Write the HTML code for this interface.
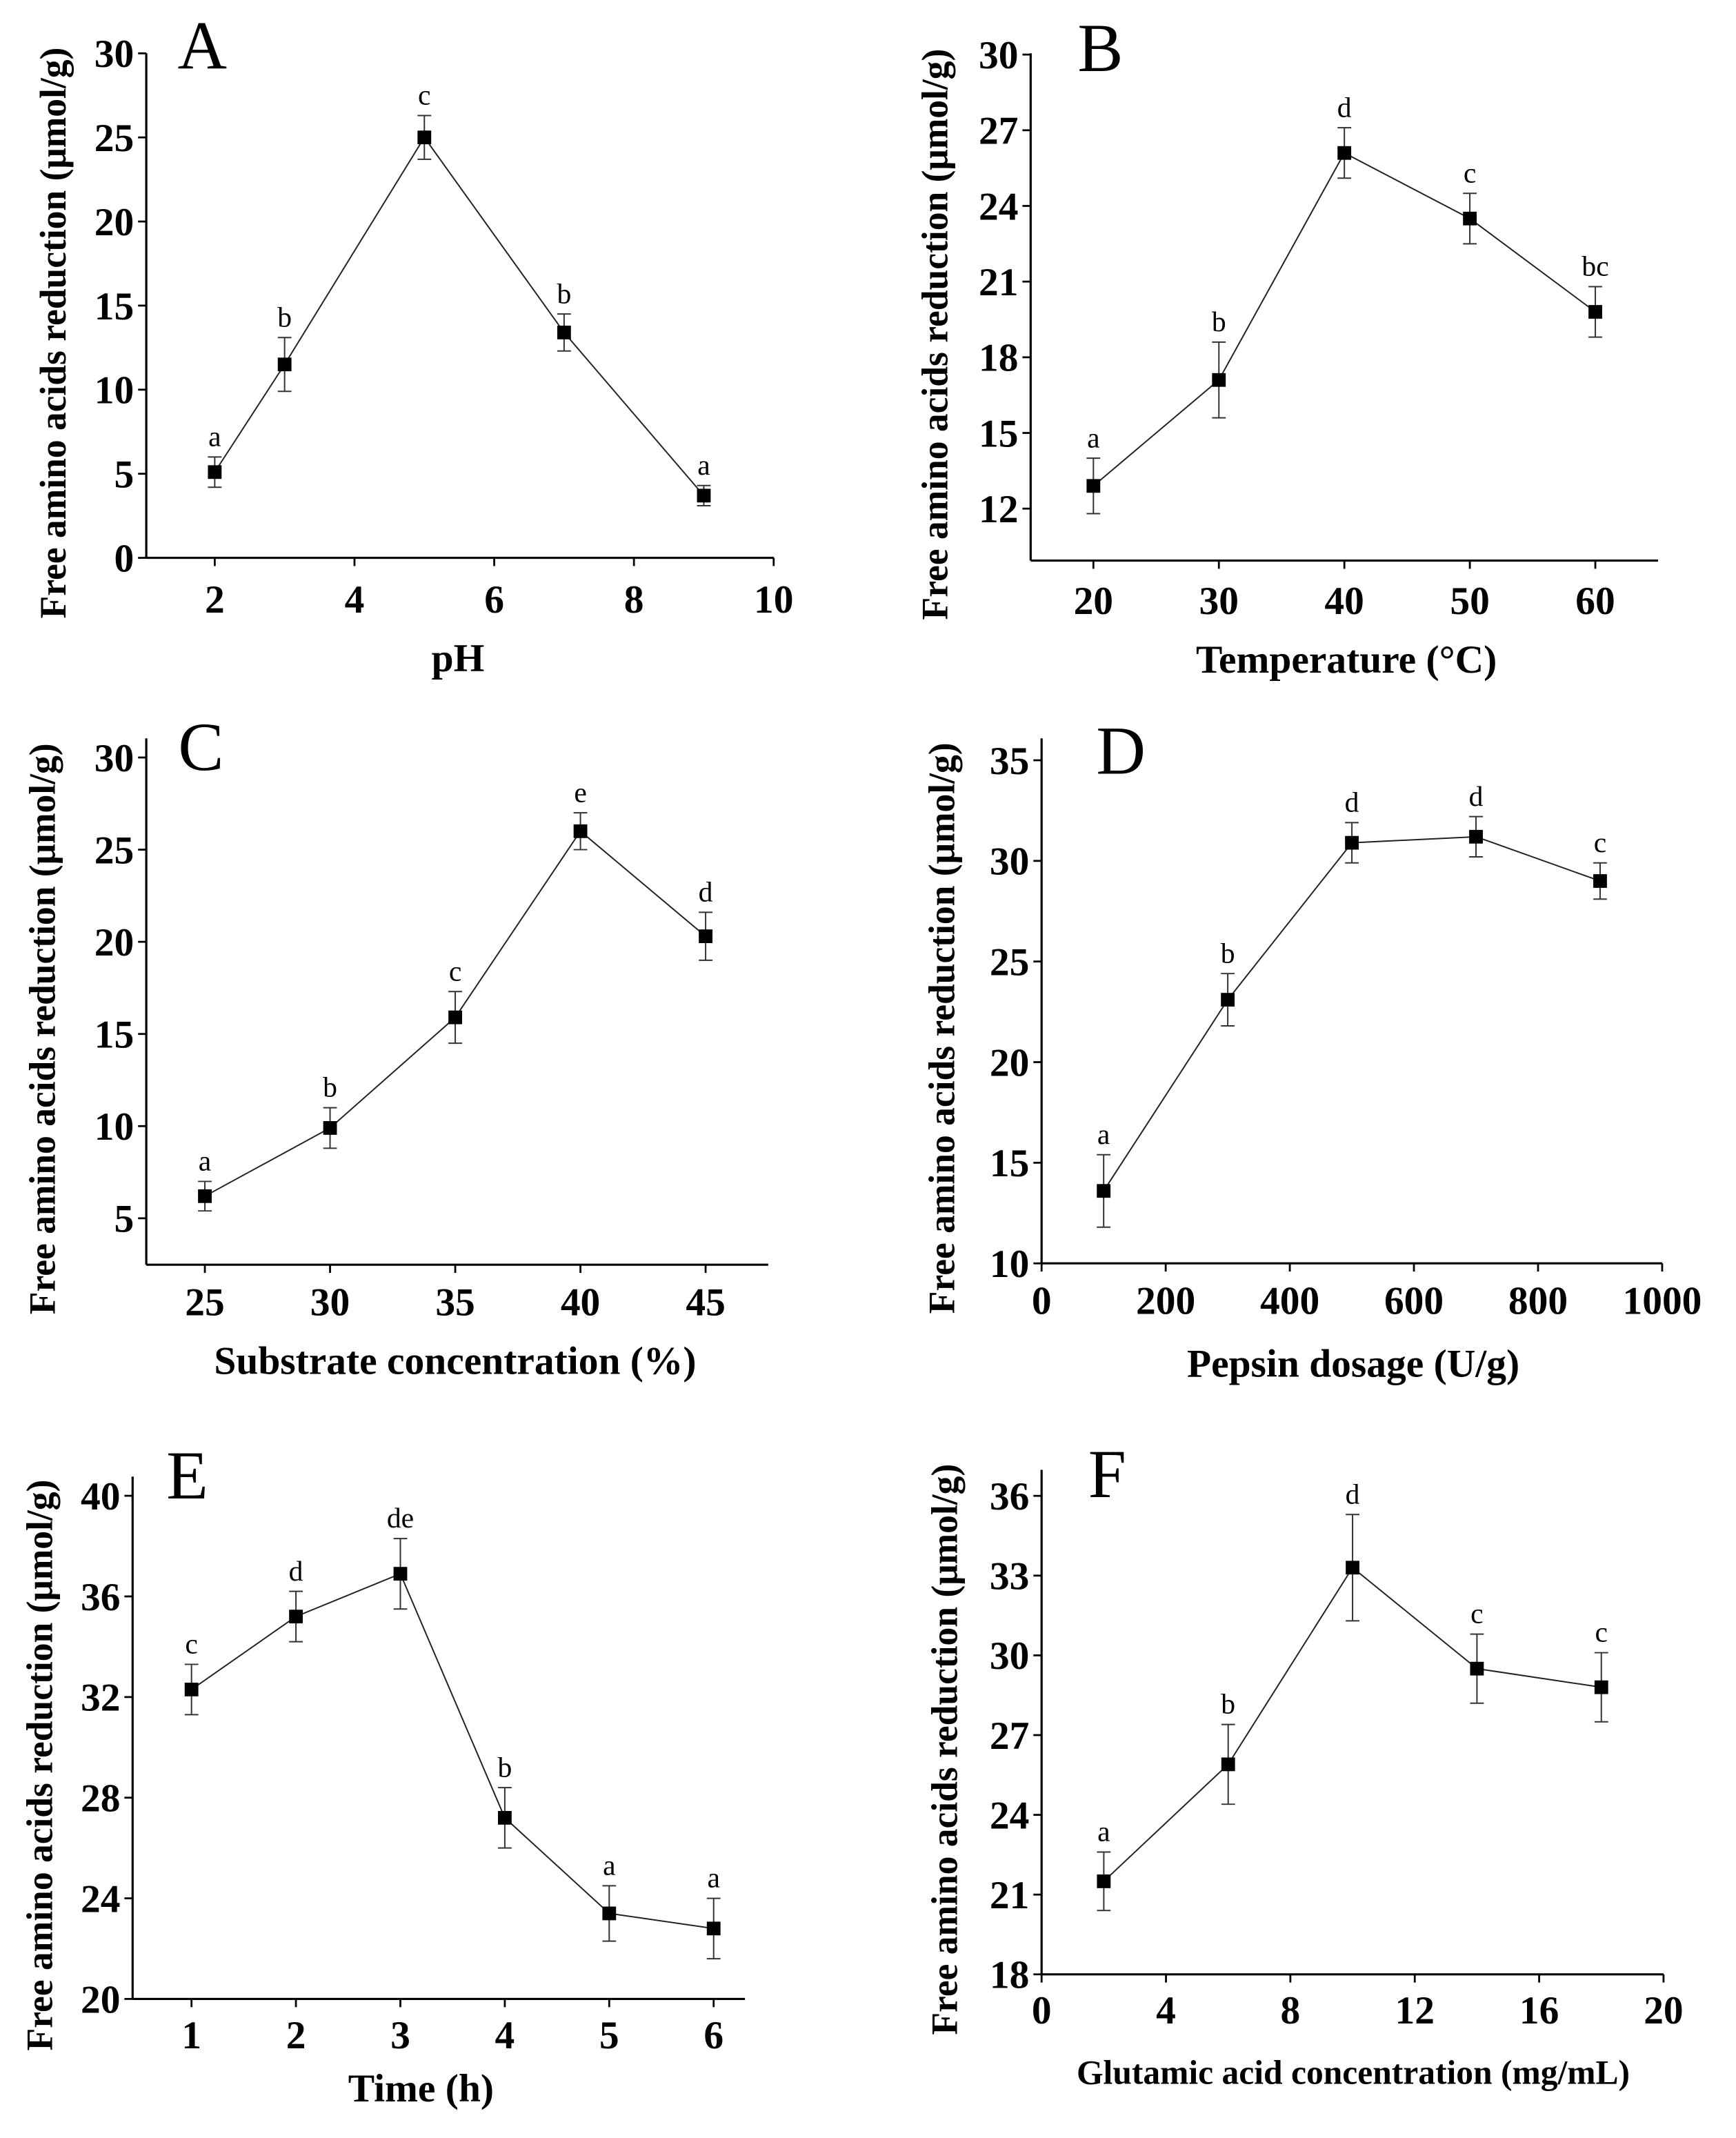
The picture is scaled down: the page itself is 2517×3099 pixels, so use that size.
<!DOCTYPE html>
<html><head><meta charset="utf-8">
<style>
html,body{margin:0;padding:0;background:#fff;}
svg{display:block;font-family:"Liberation Serif",serif;}
</style></head>
<body>
<svg id="fig" width="2517" height="3099" viewBox="0 0 1270 1563.7" xmlns="http://www.w3.org/2000/svg"></svg>
<script>
// Panel data arrays
const aX=[2,3,5,7,9];
const aY=[5.1,11.5,25.0,13.4,3.7];
const aErr=[0.9,1.6,1.3,1.1,0.6];
const aLbl=["a","b","c","b","a"];
const aXTicks=[2,4,6,8,10];
const aYTicks=[0,5,10,15,20,25,30];

const bX=[20,30,40,50,60];
const bY=[12.9,17.1,26.1,23.5,19.8];
const bErr=[1.1,1.5,1.0,1.0,1.0];
const bLbl=["a","b","d","c","bc"];
const bXTicks=[20,30,40,50,60];
const bYTicks=[12,15,18,21,24,27,30];

const cX=[25,30,35,40,45];
const cY=[6.2,9.9,15.9,26.0,20.3];
const cErr=[0.8,1.1,1.4,1.0,1.3];
const cLbl=["a","b","c","e","d"];
const cXTicks=[25,30,35,40,45];
const cYTicks=[5,10,15,20,25,30];

const dX=[100,300,500,700,900];
const dY=[13.6,23.1,30.9,31.2,29.0];
const dErr=[1.8,1.3,1.0,1.0,0.9];
const dLbl=["a","b","d","d","c"];
const dXTicks=[0,200,400,600,800,1000];
const dYTicks=[10,15,20,25,30,35];

const eX=[1,2,3,4,5,6];
const eY=[32.3,35.2,36.9,27.2,23.4,22.8];
const eErr=[1.0,1.0,1.4,1.2,1.1,1.2];
const eLbl=["c","d","de","b","a","a"];
const eXTicks=[1,2,3,4,5,6];
const eYTicks=[20,24,28,32,36,40];

const fX=[2,6,10,14,18];
const fY=[21.5,25.9,33.3,29.5,28.8];
const fErr=[1.1,1.5,2.0,1.3,1.3];
const fLbl=["a","b","d","c","c"];
const fXTicks=[0,4,8,12,16,20];
const fYTicks=[18,21,24,27,30,33,36];

const NS="http://www.w3.org/2000/svg";
const svg=document.getElementById('fig');
function mk(tag,attrs,parent){const e=document.createElementNS(NS,tag);for(const k in attrs)e.setAttribute(k,attrs[k]);(parent||svg).appendChild(e);return e;}

const panels=[
 {id:'a',letter:'A',X:aX,Y:aY,E:aErr,L:aLbl,xt:aXTicks,yt:aYTicks,x0:107,x1:566,xmin:1.02,xmax:10,y0:408,y1:39,ymin:0,ymax:30,lx:148,ly:50,xtitle:'pH',xtx:335,xty:491,xtfs:29,ytx:38,tly:448},
 {id:'b',letter:'B',X:bX,Y:bY,E:bErr,L:bLbl,xt:bXTicks,yt:bYTicks,x0:754,x1:1213,xmin:15,xmax:65,y0:410,y1:39,ymin:9.94,ymax:30.05,lx:805,ly:52,xtitle:'Temperature (°C)',xtx:985,xty:492,xtfs:29,ytx:683,tly:449},
 {id:'c',letter:'C',X:cX,Y:cY,E:cErr,L:cLbl,xt:cXTicks,yt:cYTicks,x0:107,x1:562,xmin:22.66,xmax:47.5,y0:925,y1:540,ymin:2.48,ymax:31.04,lx:147,ly:563,xtitle:'Substrate concentration (%)',xtx:333,xty:1005,xtfs:29,ytx:30,tly:962},
 {id:'d',letter:'D',X:dX,Y:dY,E:dErr,L:dLbl,xt:dXTicks,yt:dYTicks,x0:762,x1:1216,xmin:0,xmax:1000,y0:924,y1:540,ymin:10,ymax:36.09,lx:820,ly:566,xtitle:'Pepsin dosage (U/g)',xtx:990,xty:1007,xtfs:29,ytx:688,tly:961},
 {id:'e',letter:'E',X:eX,Y:eY,E:eErr,L:eLbl,xt:eXTicks,yt:eYTicks,x0:97,x1:545,xmin:0.436,xmax:6.3,y0:1462,y1:1080,ymin:20,ymax:40.76,lx:137,ly:1096,xtitle:'Time (h)',xtx:308,xty:1537,xtfs:29,ytx:28,tly:1498},
 {id:'f',letter:'F',X:fX,Y:fY,E:fErr,L:fLbl,xt:fXTicks,yt:fYTicks,x0:762,x1:1217,xmin:0,xmax:20,y0:1444,y1:1075,ymin:18,ymax:36.98,lx:810,ly:1095,xtitle:'Glutamic acid concentration (mg/mL)',xtx:990,xty:1524,xtfs:25,ytx:690,tly:1480}
];

panels.forEach(p=>{
 const g=mk('g',{});
 
 
 const sx=v=>p.x0+(v-p.xmin)/(p.xmax-p.xmin)*(p.x1-p.x0);
 const sy=v=>p.y0-(v-p.ymin)/(p.ymax-p.ymin)*(p.y0-p.y1);
 const ax=mk('line',{x1:p.x0,y1:p.y0,x2:p.x1,y2:p.y0,stroke:'#000','stroke-width':1.6},g);
 
 
 const ay=mk('line',{x1:p.x0,y1:p.y0,x2:p.x0,y2:p.y1,stroke:'#000','stroke-width':1.6},g);
 
 
 p.xt.forEach(t=>{
  const x=sx(t);
  mk('line',{x1:x,y1:p.y0,x2:x,y2:p.y0+6,stroke:'#000','stroke-width':1.4},g);
  const tx=mk('text',{x:x,y:p.tly,'text-anchor':'middle','font-size':29,'font-weight':'bold'},g);
  tx.textContent=t;
  
  
 });
 p.yt.forEach(t=>{
  const y=sy(t);
  mk('line',{x1:p.x0-6,y1:y,x2:p.x0,y2:y,stroke:'#000','stroke-width':1.4},g);
  const tx=mk('text',{x:p.x0-9,y:y+10,'text-anchor':'end','font-size':29,'font-weight':'bold'},g);
  tx.textContent=t;
  
  
 });
 const pts=p.X.map((v,i)=>sx(v)+','+sy(p.Y[i])).join(' ');
 const pl=mk('polyline',{points:pts,fill:'none',stroke:'#222','stroke-width':1},g);
 
 
 p.X.forEach((v,i)=>{
  const x=sx(v),y=sy(p.Y[i]),yt=sy(p.Y[i]+p.E[i]),yb=sy(p.Y[i]-p.E[i]);
  const eb=mk('path',{d:`M${x},${yt}V${yb}M${x-5},${yt}H${x+5}M${x-5},${yb}H${x+5}`,stroke:'#333','stroke-width':1,fill:'none'},g);
  
  
  const r=mk('rect',{x:x-5,y:y-5,width:10,height:10,fill:'#000'},g);
  
  
  const lt=mk('text',{x:x,y:yt-8,'text-anchor':'middle','font-size':21},g);
  lt.textContent=p.L[i];
  
  
 });
 const pl2=mk('text',{x:p.lx,y:p.ly,'text-anchor':'middle','font-size':50},g);
 pl2.textContent=p.letter;
 
 
 const xt=mk('text',{x:p.xtx,y:p.xty,'text-anchor':'middle','font-size':p.xtfs,'font-weight':'bold'},g);
 xt.textContent=p.xtitle;
 
 
 const cy=(p.y0+p.y1)/2+20;
 const yt=mk('text',{x:0,y:0,'text-anchor':'middle','font-size':27,'font-weight':'bold',transform:`translate(${p.ytx+10},${cy}) rotate(-90)`},g);
 yt.textContent='Free amino acids reduction (μmol/g)';
 
 
});
</script>
</body></html>
